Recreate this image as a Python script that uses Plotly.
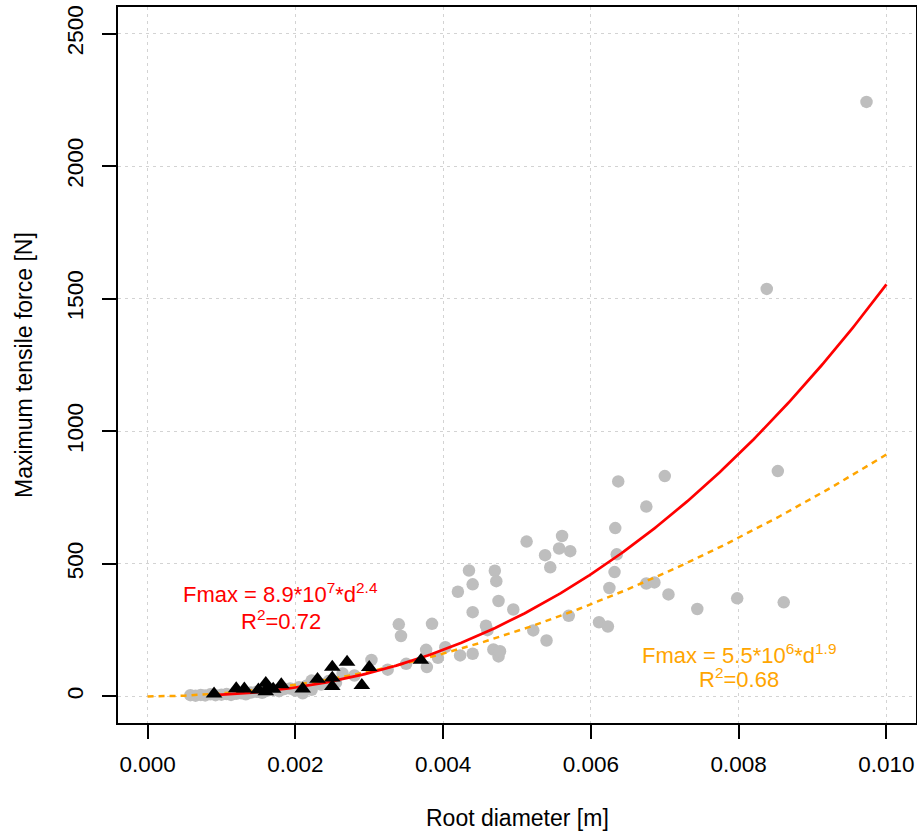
import numpy as np
import plotly.graph_objects as go

# Gray circles: all roots (diameter [m], max tensile force [N])
gray_d = [0.00058, 0.00065, 0.00072, 0.00078, 0.00085, 0.00092, 0.00100, 0.00107, 0.00113,
          0.00120, 0.00127, 0.00133, 0.00140, 0.00148, 0.00155, 0.00162, 0.00170, 0.00178,
          0.00185, 0.00193, 0.00200, 0.00205, 0.00210, 0.00215, 0.00222, 0.00222, 0.00235,
          0.00245, 0.00255, 0.00264, 0.00280, 0.00303, 0.00325, 0.00340, 0.00343, 0.00350,
          0.00377, 0.00378, 0.00385, 0.00393, 0.00403, 0.00420, 0.00423, 0.00435, 0.00440,
          0.00440, 0.00440, 0.00458, 0.00460, 0.00468, 0.00470, 0.00472, 0.00475, 0.00475,
          0.00477, 0.00495, 0.00513, 0.00522, 0.00538, 0.00540, 0.00545, 0.00557, 0.00561,
          0.00570, 0.00572, 0.00611, 0.00623, 0.00625, 0.00632, 0.00633, 0.00635, 0.00637,
          0.00675, 0.00675, 0.00686, 0.00700, 0.00705, 0.00744, 0.00798, 0.00838, 0.00853,
          0.00861, 0.00973]
gray_f = [5, 3, 6, 4, 8, 5, 7, 9, 6,
          10, 12, 8, 15, 18, 14, 22, 25, 20,
          28, 30, 22, 35, 12, 40, 25, 60, 45,
          58, 52, 87, 79, 138, 101, 272, 228, 123,
          176, 111, 274, 146, 186, 395, 155, 475, 423,
          318, 161, 267, 250, 177, 474, 435, 360, 151,
          171, 328, 584, 249, 533, 211, 487, 558, 605,
          304, 548, 280, 264, 409, 469, 635, 536, 811,
          716, 426, 430, 831, 385, 330, 370, 1537, 850,
          355, 2242]

# Black triangles: second group
tri_d = [0.00090, 0.00120, 0.00131, 0.00150, 0.00160, 0.00160, 0.00163, 0.00170, 0.00181,
         0.00210, 0.00230, 0.00250, 0.00250, 0.00250, 0.00270, 0.00290, 0.00300, 0.00370]
tri_f = [10, 30, 29, 25, 50, 18, 35, 28, 45,
         29, 65, 111, 70, 38, 130, 42, 110, 137]

# Fitted power laws Fmax = a * d^b
red_a, red_b, red_dmin, red_dmax = 8.9e7, 2.379, 0.0009, 0.010
org_a, org_b, org_dmin, org_dmax = 5.5e6, 1.89, 0.0, 0.010

x_ticks = [0.000, 0.002, 0.004, 0.006, 0.008, 0.010]
x_tick_labels = ["0.000", "0.002", "0.004", "0.006", "0.008", "0.010"]
y_ticks = [0, 500, 1000, 1500, 2000, 2500]
y_tick_labels = ["0", "500", "1000", "1500", "2000", "2500"]

FONT = "Liberation Sans, Arial, Helvetica, sans-serif"

d_red = np.linspace(red_dmin, red_dmax, 300)
d_org = np.linspace(org_dmin, org_dmax, 300)

fig = go.Figure()
fig.add_trace(go.Scatter(x=gray_d, y=gray_f, mode="markers",
                         marker=dict(symbol="circle", size=12.5, color="#BEBEBE"),
                         showlegend=False, hoverinfo="skip"))
fig.add_trace(go.Scatter(x=d_org, y=org_a * d_org ** org_b, mode="lines",
                         line=dict(color="#FFA500", width=2.5, dash="6px,5px"),
                         showlegend=False, hoverinfo="skip"))
fig.add_trace(go.Scatter(x=d_red, y=red_a * d_red ** red_b, mode="lines",
                         line=dict(color="#FF0000", width=2.7),
                         showlegend=False, hoverinfo="skip"))
fig.add_trace(go.Scatter(x=tri_d, y=tri_f, mode="markers",
                         marker=dict(symbol="triangle-up", size=14.5, color="black"),
                         showlegend=False, hoverinfo="skip"))

ann_font = dict(family=FONT, size=22)
annotations = [
    dict(x=0.0018, y=389, text="Fmax = 8.9*10<sup>7</sup>*d<sup>2.4</sup>",
         font=dict(color="#FF0000", **ann_font)),
    dict(x=0.0018, y=287, text="R<sup>2</sup>=0.72", font=dict(color="#FF0000", **ann_font)),
    dict(x=0.0080, y=160, text="Fmax = 5.5*10<sup>6</sup>*d<sup>1.9</sup>",
         font=dict(color="#FFA500", **ann_font)),
    dict(x=0.0080, y=70, text="R<sup>2</sup>=0.68", font=dict(color="#FFA500", **ann_font)),
]
for a in annotations:
    a.update(xref="x", yref="y", showarrow=False, xanchor="center", yanchor="middle")

annotations.append(dict(text="Root diameter [m]", xref="paper", yref="paper", x=0.5,
                        y=-(818 - 723) / 716,
                        showarrow=False, xanchor="center", yanchor="middle",
                        font=dict(family=FONT, size=23, color="black")))
annotations.append(dict(text="Maximum tensile force [N]", xref="paper", yref="paper",
                        x=(24 - 118) / 798, y=0.5, textangle=-90,
                        showarrow=False, xanchor="center", yanchor="middle",
                        font=dict(family=FONT, size=23, color="black")))

axis_common = dict(showline=True, mirror=True, linecolor="black", linewidth=1.5,
                   ticks="outside", ticklen=14, tickwidth=1.5, tickcolor="black",
                   showgrid=True, gridcolor="#D3D3D3", gridwidth=1, griddash="3px,4px",
                   zeroline=False, automargin=False,
                   tickfont=dict(family=FONT, size=22.5, color="black"))

fig.update_layout(
    template="none",
    width=917, height=834,
    margin=dict(l=118, r=1, t=7, b=111, pad=0),
    plot_bgcolor="white", paper_bgcolor="white",
    xaxis=dict(range=[-0.0004, 0.0104], tickvals=x_ticks, ticktext=x_tick_labels,
               ticklabelstandoff=6, **axis_common),
    yaxis=dict(range=[-100, 2600], tickvals=y_ticks, ticktext=y_tick_labels,
               tickangle=-90, ticklabelstandoff=10, **axis_common),
    annotations=annotations,
)

fig.write_html("out.html", config={"displayModeBar": False},
               post_script="document.body.style.margin='0';document.body.style.overflow='hidden';")
